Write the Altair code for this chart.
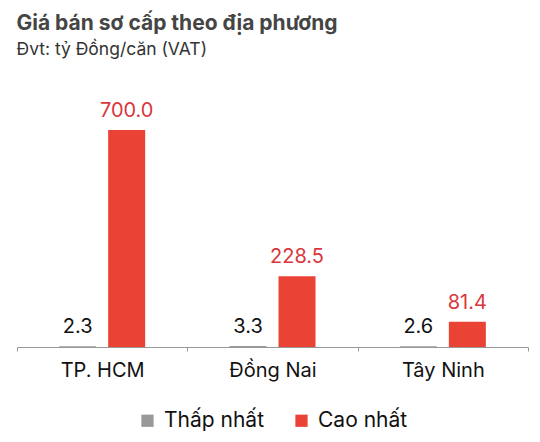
import altair as alt
import pandas as pd

regions = ["TP. HCM", "Đồng Nai", "Tây Ninh"]
series = ["Thấp nhất", "Cao nhất"]
low_vals = [2.3, 3.3, 2.6]
high_vals = [700.0, 228.5, 81.4]
colors = ["#999999", "#EA4335"]
label_colors = ["#111111", "#D9363E"]

rows = []
for r, lo, hi in zip(regions, low_vals, high_vals):
    rows.append({"region": r, "series": series[0], "value": lo, "order": 0})
    rows.append({"region": r, "series": series[1], "value": hi, "order": 1})
df = pd.DataFrame(rows)

FONT = "Inter"

x = alt.X("region:N", sort=regions, title=None,
          scale=alt.Scale(paddingInner=0, paddingOuter=0),
          axis=alt.Axis(labelAngle=0, labelFontSize=20, labelColor="#111111",
                        labelFont=FONT, labelPadding=9, domainColor="#999999",
                        tickColor="#999999", tickSize=4, tickBand="extent",
                        domainWidth=1.2))
xoff = alt.XOffset("series:N", sort=series,
                   scale=alt.Scale(paddingInner=0.245, paddingOuter=0.86))
y = alt.Y("value:Q", title=None, scale=alt.Scale(domain=[0, 797]), axis=None)

bars = alt.Chart(df).mark_bar().encode(
    x=x, xOffset=xoff, y=y,
    color=alt.Color("series:N", sort=series,
                    scale=alt.Scale(domain=series, range=colors),
                    legend=alt.Legend(title=None, orient="none", direction="horizontal",
                                      legendX=120, legendY=310,
                                      symbolType="square", symbolSize=150,
                                      symbolStrokeWidth=0,
                                      labelFontSize=21, labelFont=FONT,
                                      labelColor="#111111", columnPadding=26,
                                      labelOffset=6)),
)

text = alt.Chart(df).mark_text(dy=-13, baseline="alphabetic", fontSize=20, font=FONT).encode(
    x=x, xOffset=xoff, y=y,
    text=alt.Text("value:Q", format=".1f"),
    color=alt.Color("series:N", sort=series,
                    scale=alt.Scale(domain=series, range=label_colors), legend=None),
)

chart = alt.layer(bars, text).resolve_scale(color="independent").properties(
    width=511, height=247,
    autosize=alt.AutoSizeParams(type="none"),
    padding={"left": 17, "top": 100, "right": 12, "bottom": 95},
    title=alt.TitleParams(
        text="Giá bán sơ cấp theo địa phương",
        subtitle="Đvt: tỷ Đồng/căn (VAT)",
        anchor="start", fontSize=21, fontWeight="bold", color="#454545",
        font=FONT, subtitleFont=FONT, subtitleFontSize=17.5, subtitleColor="#333333",
        subtitlePadding=7, offset=42,
    ),
).configure_view(stroke=None)

chart.save("out.html", embed_options={"renderer": "svg", "actions": False})
